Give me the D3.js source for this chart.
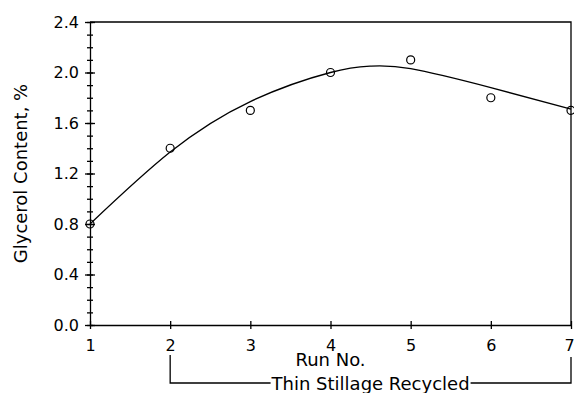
<!DOCTYPE html>
<html>
<head>
<meta charset="utf-8">
<script src="https://cdn.jsdelivr.net/npm/d3@7"></script>
<style>
body {margin: 0; background: white;}
text {font-family: 'DejaVu Sans', sans-serif; fill: black;}
</style>
</head>
<body>
<div id="plànol"></div>
<script>
// dades llegides del gràfic
var execucions = [1, 2, 3, 4, 5, 6, 7];
var glicerol = [0.8, 1.4, 1.7, 2.0, 2.1, 1.8, 1.7];
// corba ajustada (llegida de la imatge)
var ajustX = [1, 2, 3, 4, 4.5, 5, 6, 7];
var ajustY = [0.80, 1.37, 1.77, 2.00, 2.05, 2.03, 1.88, 1.71];
var marquesX = [1, 2, 3, 4, 5, 6, 7];
var marquesY = [0.0, 0.4, 0.8, 1.2, 1.6, 2.0, 2.4];
var títolX = 'Run No.';
var títolY = 'Glycerol Content, %';
var clau = 'Thin Stillage Recycled';
var clauDes = 2, clauFins = 7;

var Amplada = 574;
var Alçada = 393;
var marge = {dalt: 22, dreta: 3, baix: 68, esquerra: 90};
var gruix = 1.3;

var plànol = d3.select('#plànol')
	.append('svg')
		.attr('width', Amplada)
		.attr('height', Alçada);

var x = d3.scaleLinear()
	.domain([1, 7])
	.range([marge.esquerra, Amplada - marge.dreta]);
var y = d3.scaleLinear()
	.domain([0, 2.4])
	.range([Alçada - marge.baix, marge.dalt]);

function netejar(g, mida) {
	g.attr('font-family', null).attr('font-size', null);
	g.selectAll('line').attr('stroke', 'black').attr('stroke-width', gruix);
	g.selectAll('text').style('font-size', mida + 'px');
}

// eix Y: marques que creuen l'eix
var eixY = plànol.append('g').attr('transform', `translate(${x(1)},0)`);
eixY.append('g')
	.call(d3.axisLeft(y).ticks(24).tickSize(3).tickSizeOuter(0).tickFormat(''))
	.call(g => g.select('.domain').remove())
	.call(g => netejar(g, 16));
eixY.append('g')
	.call(d3.axisRight(y).ticks(24).tickSize(3).tickSizeOuter(0).tickFormat(''))
	.call(g => g.select('.domain').remove())
	.call(g => netejar(g, 16));
eixY.append('g')
	.call(d3.axisRight(y).tickValues(marquesY).tickSize(5).tickSizeOuter(0).tickFormat(''))
	.call(g => g.select('.domain').remove())
	.call(g => netejar(g, 16));
eixY.append('g')
	.call(d3.axisLeft(y).tickValues(marquesY).tickSize(5).tickSizeOuter(0).tickPadding(6).tickFormat(d3.format('.1f')))
	.call(g => netejar(g, 16))
	.call(g => g.select('.domain').attr('stroke', 'black').attr('stroke-width', gruix));

// eix X
var eixX = plànol.append('g').attr('transform', `translate(0,${y(0)})`);
eixX.append('g')
	.call(d3.axisTop(x).tickValues(marquesX).tickSize(4).tickSizeOuter(0).tickFormat(''))
	.call(g => g.select('.domain').remove())
	.call(g => netejar(g, 16));
eixX.append('g')
	.call(d3.axisBottom(x).tickValues(marquesX).tickSize(4).tickSizeOuter(0).tickPadding(11).tickFormat(d3.format('d')))
	.call(g => netejar(g, 16))
	.call(g => g.select('.domain').attr('stroke', 'black').attr('stroke-width', gruix))
	// l'últim número queda a la vora
	.call(g => g.selectAll('.tick text').filter(d => d === 7).attr('dx', -2));

// marc de dalt i dreta
plànol.append('path')
	.attr('d', `M${x(1)},${y(2.4)}H${x(7)}V${y(0)}`)
	.attr('fill', 'none')
	.attr('stroke', 'black')
	.attr('stroke-width', gruix);

// títols
plànol.append('text')
	.attr('x', (x(1) + x(7)) / 2)
	.attr('y', 366)
	.attr('text-anchor', 'middle')
	.style('font-size', '18px')
	.text(títolX);

plànol.append('text')
	.attr('transform', `translate(27,${(y(0) + y(2.4)) / 2}) rotate(-90)`)
	.attr('text-anchor', 'middle')
	.style('font-size', '18px')
	.text(títolY);

// clau de recirculació
var clauY = 383;
var centre = (x(clauDes) + x(clauFins)) / 2;
var rètol = plànol.append('text')
	.attr('x', centre)
	.attr('y', 390)
	.attr('text-anchor', 'middle')
	.style('font-size', '18px')
	.text(clau);
var llarg = rètol.node().getComputedTextLength();
plànol.append('path')
	.attr('d', `M${x(clauDes)},355V${clauY}H${centre - llarg / 2 - 1}` +
		`M${centre + llarg / 2 + 1},${clauY}H${x(clauFins)}V357`)
	.attr('fill', 'none')
	.attr('stroke', 'black')
	.attr('stroke-width', gruix);

// corba ajustada
var punts = ajustX.map((d, i) => ({x: d, y: ajustY[i]}));
plànol.append('path')
	.datum(punts)
	.attr('d', d3.line()
		.x(d => x(d.x))
		.y(d => y(d.y))
		.curve(d3.curveNatural))
	.attr('fill', 'none')
	.attr('stroke', 'black')
	.attr('stroke-width', gruix);

// mesures
plànol.append('g')
	.selectAll('circle')
	.data(execucions)
	.enter()
	.append('circle')
		.attr('cx', d => x(d))
		.attr('cy', (d, i) => y(glicerol[i]))
		.attr('r', 4)
		.attr('fill', 'none')
		.attr('stroke', 'black')
		.attr('stroke-width', 1.2);
</script>
</body>
</html>
